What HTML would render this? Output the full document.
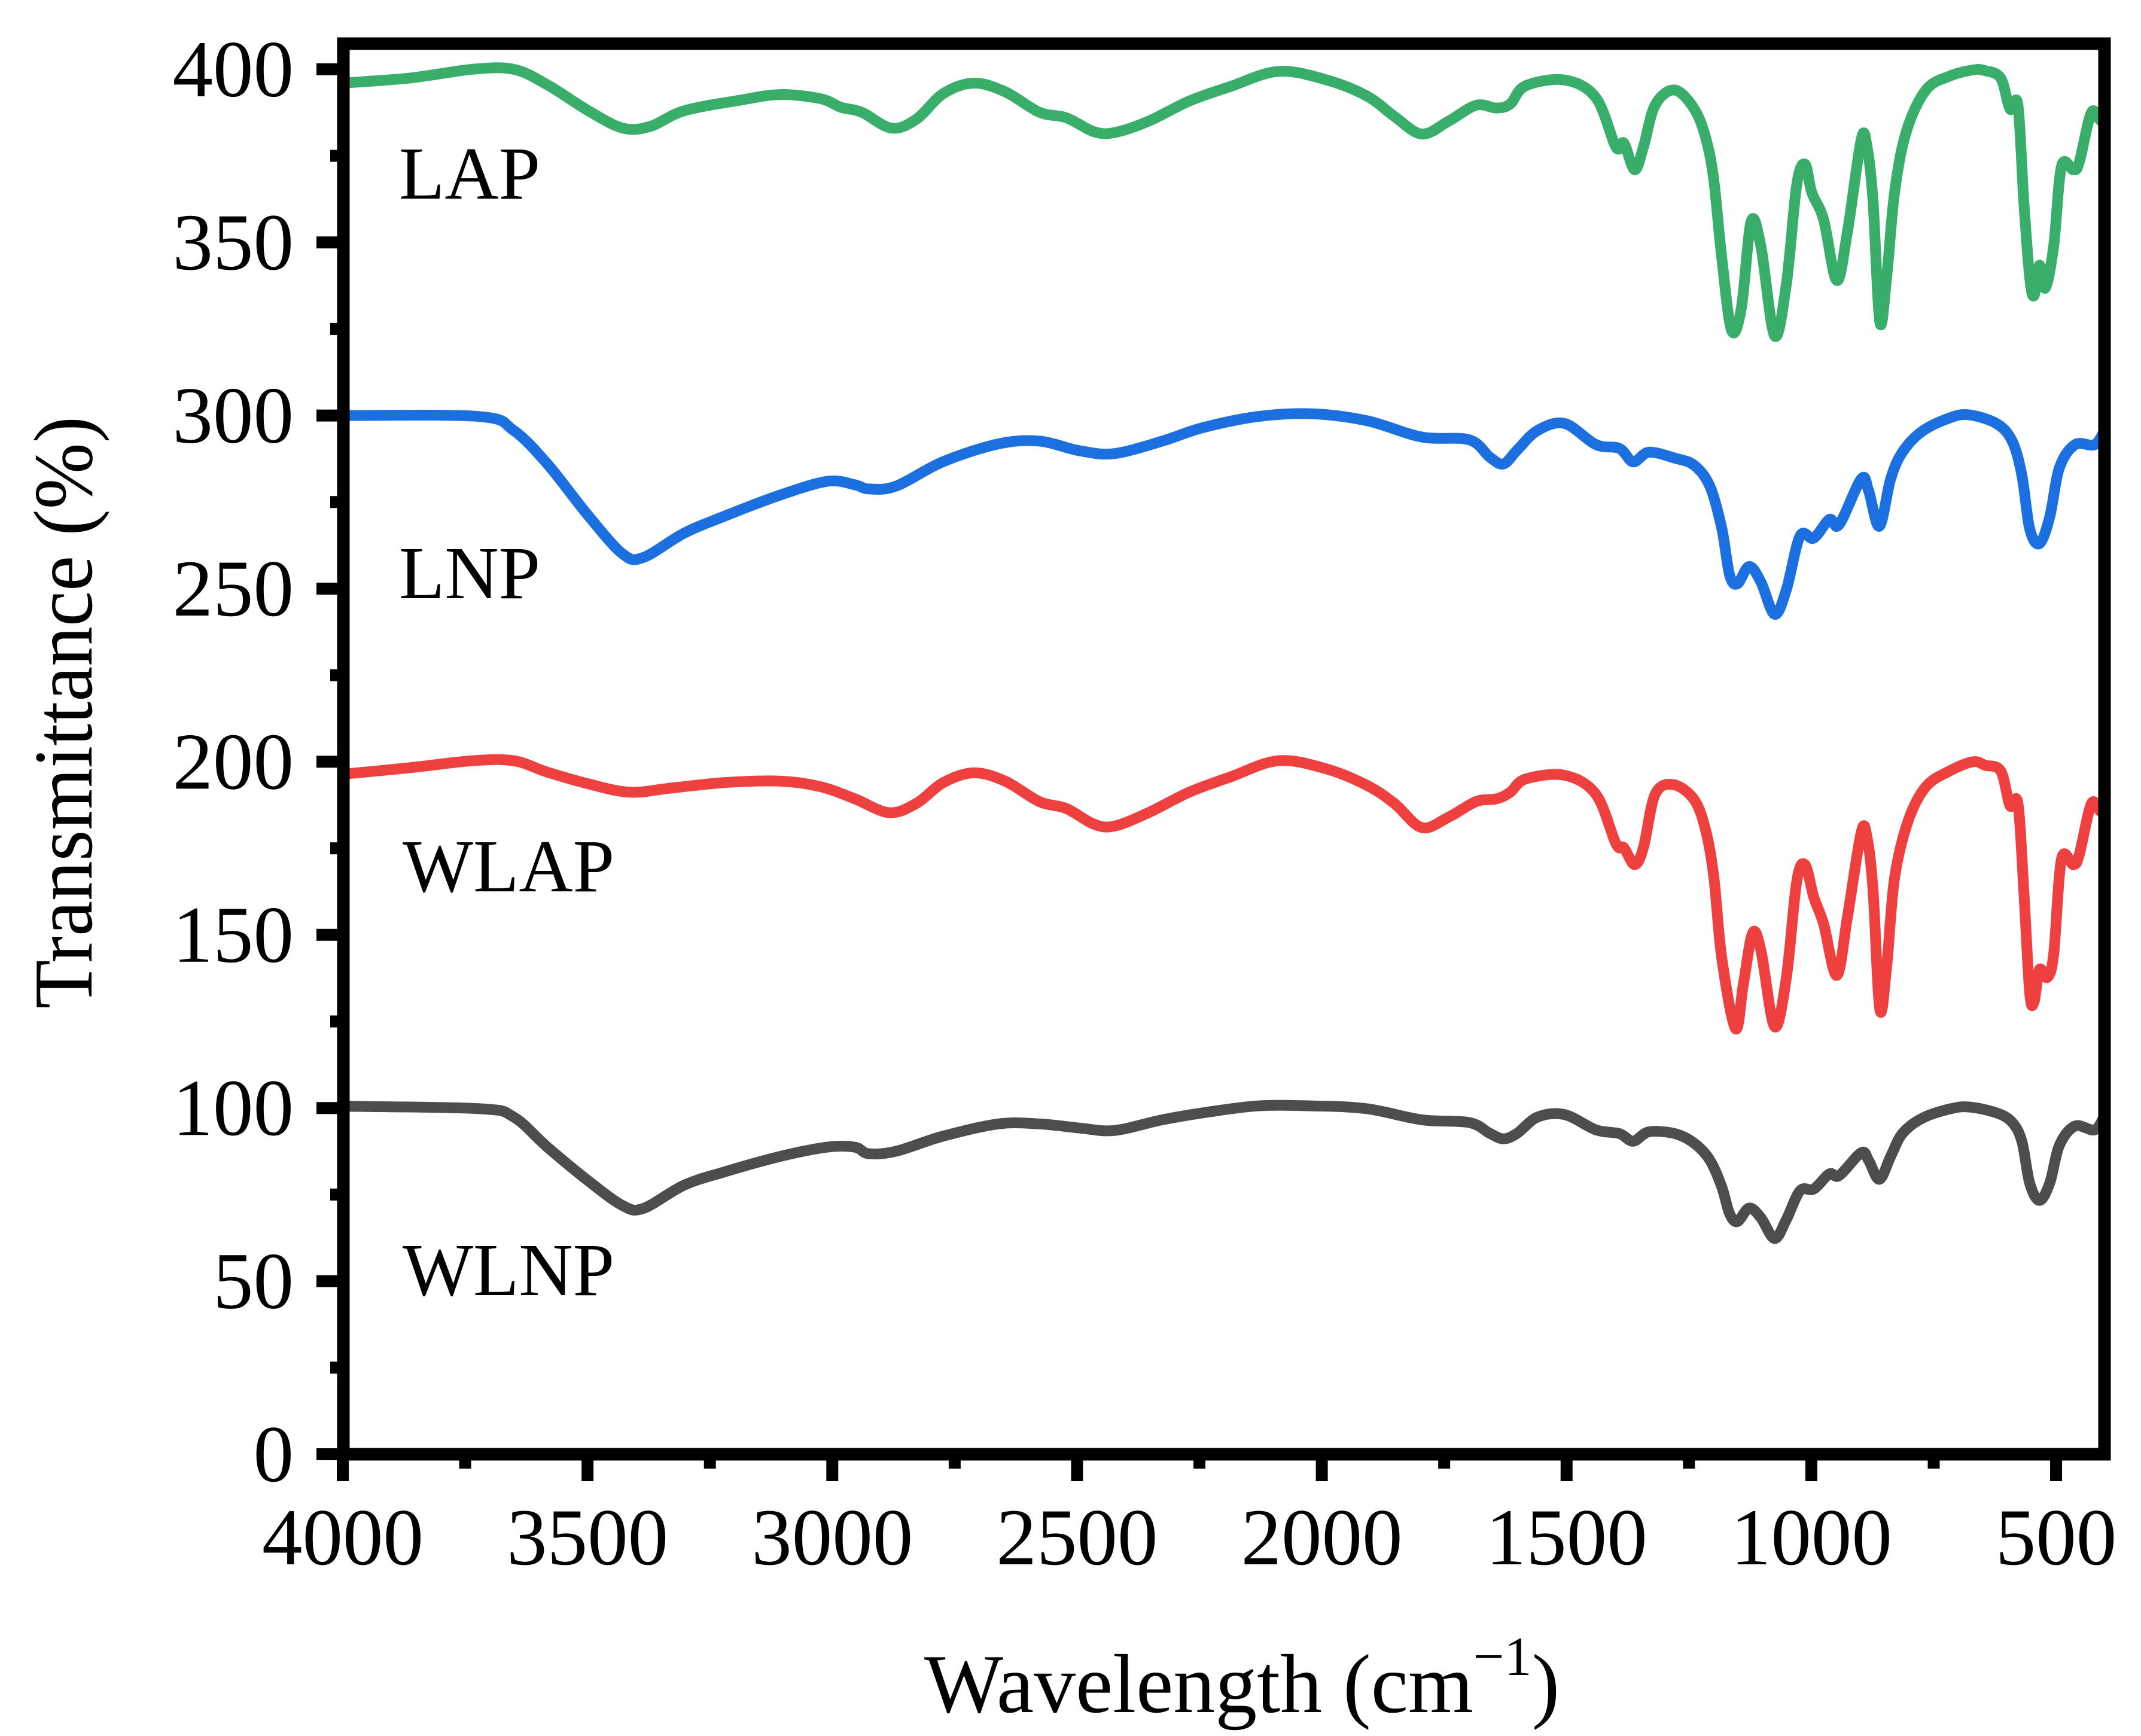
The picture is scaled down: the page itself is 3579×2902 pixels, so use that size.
<!DOCTYPE html>
<html>
<head>
<meta charset="utf-8">
<style>
  html, body { margin: 0; padding: 0; background: #ffffff; }
  svg { display: block; }
  text { font-family: "Liberation Serif", "DejaVu Serif", serif; fill: #000; }
</style>
</head>
<body>
<svg id="chart" width="3579" height="2902" viewBox="0 0 3579 2902" xmlns="http://www.w3.org/2000/svg">
  <rect x="0" y="0" width="3579" height="2902" fill="#ffffff"/>
  <g id="series"></g>
  <g id="axes"></g>
  <text x="667" y="332" font-size="125">LAP</text>
  <text x="667" y="1000" font-size="125">LNP</text>
  <text x="673" y="1490" font-size="125">WLAP</text>
  <text x="673" y="2165" font-size="125">WLNP</text>
  <text x="1545" y="2862" font-size="140">Wavelength (cm<tspan dy="-62" font-size="92">−1</tspan><tspan dy="62" font-size="140">)</tspan></text>
  <text transform="translate(153,1191) rotate(-90)" text-anchor="middle" font-size="140" textLength="990" lengthAdjust="spacingAndGlyphs">Transmittance (%)</text>
</svg>
<script>
const xTicks = [4000, 3500, 3000, 2500, 2000, 1500, 1000, 500];
const yTicks = [0, 50, 100, 150, 200, 250, 300, 350, 400];

const lapWn = [4000,3861,3735,3651,3582,3498,3428,3372,3303,3191,3107,3024,2982,2940,2879,2828,2773,2711,2647,2577,2522,2466,2424,2354,2271,2187,2089,1992,1908,1852,1796,1741,1685,1643,1615,1584,1504,1440,1399,1383,1361,1343,1319,1279,1239,1215,1199,1183,1163,1143,1123,1103,1075,1051,1030,1013,999,975,948,926,898,886,874,860,846,830,806,766,718,670,645,613,594,578,566,554,545,534,522,505,489,465,453,428,409,400];
const lapT = [396,397.5,400,400,395.5,388,383,383.5,388,391,392.7,391.5,389,387.6,383,385.6,393,396,393.5,387.6,386,382,381.7,385,390.8,395,399.4,397,392.3,386.4,381.3,385,389.6,388.8,390,395.2,396.9,391.8,377.5,378.7,371,377.5,389.7,394,388.5,379.8,367.7,345.5,324.6,331,356,348.8,323,338,366.5,372.6,364.4,356.6,339,353.3,379.8,377.5,362,326.9,340,364.4,382,394,398,399.8,399.6,397.4,388.5,389.7,362,340,334.6,343.4,336.8,348.9,372,371,373,387.5,385.3,389];

const lnpWn = [4000,3721,3651,3582,3498,3428,3386,3303,3219,3107,3010,2954,2926,2870,2773,2661,2577,2494,2424,2326,2243,2131,2019,1908,1796,1699,1657,1629,1601,1559,1504,1440,1392,1364,1332,1279,1239,1207,1183,1167,1151,1127,1103,1075,1051,1023,995,963,943,898,883,861,838,814,774,718,678,622,590,570,554,534,513,493,461,421,400];
const lnpT = [300,299.7,295.7,286,271,260,259,266,271,277,281,280,278.8,279.6,286.7,291.8,292.6,289.8,289,292.6,296.5,299.7,300.5,298.5,293.8,293,288,286,290,295.7,297.7,291.6,290.5,286.6,289.4,287.7,285.6,279.5,267.4,254,251.4,256.4,251.9,242.6,249.7,265.2,264.6,270,268.5,281.7,278.3,268,281.7,289.4,295.4,299.3,300.2,297.7,292.7,282.8,267.3,263,270.7,285,291.6,291.6,296];

const wlapWn = [4000,3861,3735,3651,3582,3498,3414,3330,3219,3107,3024,2954,2884,2828,2773,2711,2647,2577,2522,2466,2424,2354,2271,2187,2089,1992,1908,1852,1796,1741,1685,1643,1615,1584,1504,1440,1399,1383,1361,1343,1319,1282,1239,1215,1199,1183,1155,1139,1120,1103,1075,1051,1030,1013,995,975,948,926,898,886,874,860,846,830,802,766,718,670,645,613,594,578,566,554,545,534,518,505,489,465,453,428,409,400];
const wlapT = [196.4,198.3,200.3,200.3,197,193.6,191.2,192.4,194,194.4,192.8,189.3,185.3,188,194,196.8,194.4,188.5,186.5,182,181.4,185.3,191.2,195.6,200.3,198,193.2,188,181,184,188.5,189.3,191.2,195,196.1,190.6,176.3,175.2,170.3,175.2,190.6,193.4,189,179.7,166.4,143.3,122.9,135.6,150.5,145.5,123.5,137.7,165.3,170.3,160.9,153.2,138.3,155.4,179.7,178,163,128.4,141,166.4,183,192.8,197.3,200,199,197.3,187.3,188,163,133.4,130.6,140,137.7,144.4,171.9,170.3,173,187.9,185.7,188.5];

const wlnpWn = [4000,3721,3651,3582,3498,3428,3386,3303,3219,3107,3010,2954,2926,2870,2773,2661,2577,2494,2424,2326,2243,2131,2019,1908,1796,1699,1657,1629,1601,1559,1504,1440,1392,1364,1332,1279,1239,1207,1183,1167,1151,1127,1103,1075,1051,1023,995,963,943,898,883,861,838,814,774,718,678,622,590,570,554,534,513,493,461,421,400];
const wlnpT = [100.5,99.8,97.4,88.7,78.9,71.8,71,77.7,81.6,86,88.7,88.7,86.8,87.5,91.9,95.4,95.4,94.2,93.5,96.6,98.6,100.6,100.6,99.8,96.6,95.8,92.7,91.1,92.7,97.4,98.1,93.7,92.6,90.4,93.1,92.6,89.8,84.9,77.2,69.5,67.2,71.1,68.3,62.3,67.8,76.1,76.6,81,80.5,87.1,84.9,79.4,86,92.6,97,99.7,100.3,98.6,95.9,90.4,78.3,73.3,78.3,89.3,94.8,93.7,98.1];

const NS = "http://www.w3.org/2000/svg";
const X0 = 573, XS = 0.8183, Y0 = 2431, YS = 5.788;
function xScale(w) { return X0 + (4000 - w) * XS; }
function yScale(v) { return Y0 - v * YS; }

const seriesG = document.getElementById('series');
const axesG = document.getElementById('axes');

function drawSeries(wn, t, color, name) {
  const pts = wn.map(function (w, i) { return [xScale(w), yScale(t[i])]; });
  let d = 'M' + pts[0][0].toFixed(1) + ' ' + pts[0][1].toFixed(1);
  for (let i = 0; i < pts.length - 1; i++) {
    const p0 = pts[i - 1] || pts[i], p1 = pts[i], p2 = pts[i + 1], p3 = pts[i + 2] || p2;
    const k = 0.5 / 3;
    const c1x = p1[0] + (p2[0] - p0[0]) * k, c1y = p1[1] + (p2[1] - p0[1]) * k;
    const c2x = p2[0] - (p3[0] - p1[0]) * k, c2y = p2[1] - (p3[1] - p1[1]) * k;
    d += 'C' + c1x.toFixed(1) + ' ' + c1y.toFixed(1) + ' ' + c2x.toFixed(1) + ' ' + c2y.toFixed(1) + ' ' + p2[0].toFixed(1) + ' ' + p2[1].toFixed(1);
  }
  const p = document.createElementNS(NS, 'path');
  p.setAttribute('d', d);
  p.setAttribute('fill', 'none');
  p.setAttribute('stroke', color);
  p.setAttribute('stroke-width', '18');
  p.setAttribute('stroke-linejoin', 'round');
  p.setAttribute('stroke-linecap', 'round');
  
  
  seriesG.appendChild(p);
}
drawSeries(lapWn, lapT, '#38ae6a', 'series-lap');
drawSeries(lnpWn, lnpT, '#1c6fdf', 'series-lnp');
drawSeries(wlapWn, wlapT, '#ef4040', 'series-wlap');
drawSeries(wlnpWn, wlnpT, '#4d4d4d', 'series-wlnp');

function line(x1, y1, x2, y2, w, name) {
  const l = document.createElementNS(NS, 'line');
  l.setAttribute('x1', x1); l.setAttribute('y1', y1);
  l.setAttribute('x2', x2); l.setAttribute('y2', y2);
  l.setAttribute('stroke', '#000');
  l.setAttribute('stroke-width', w);
  
  
  axesG.appendChild(l);
}
function label(x, y, str, anchor, size, name) {
  const t = document.createElementNS(NS, 'text');
  t.setAttribute('x', x); t.setAttribute('y', y);
  t.setAttribute('text-anchor', anchor);
  t.setAttribute('font-size', size);
  t.textContent = str;
  
  
  axesG.appendChild(t);
}

const fr = document.createElementNS(NS, 'rect');
fr.setAttribute('x', 574); fr.setAttribute('y', 73);
fr.setAttribute('width', 3518 - 574); fr.setAttribute('height', 2431 - 73);
fr.setAttribute('fill', 'none'); fr.setAttribute('stroke', '#000'); fr.setAttribute('stroke-width', '21');


axesG.appendChild(fr);

xTicks.forEach(function (w) {
  const x = xScale(w);
  line(x, 2431, x, 2476, 20, 'x-tick-major');
  label(x, 2615, String(w), 'middle', 135, 'x-tick-label');
});
for (let w = 3750; w > 400; w -= 500) {
  const x = xScale(w);
  line(x, 2431, x, 2455, 20, 'x-tick-minor');
}
yTicks.forEach(function (v) {
  const y = yScale(v);
  line(529, y, 574, y, 20, 'y-tick-major');
  label(491, y + 45, String(v), 'end', 135, 'y-tick-label');
});
for (let v = 25; v < 400; v += 50) {
  const y = yScale(v);
  line(552, y, 574, y, 20, 'y-tick-minor');
}
</script>
</body>
</html>
